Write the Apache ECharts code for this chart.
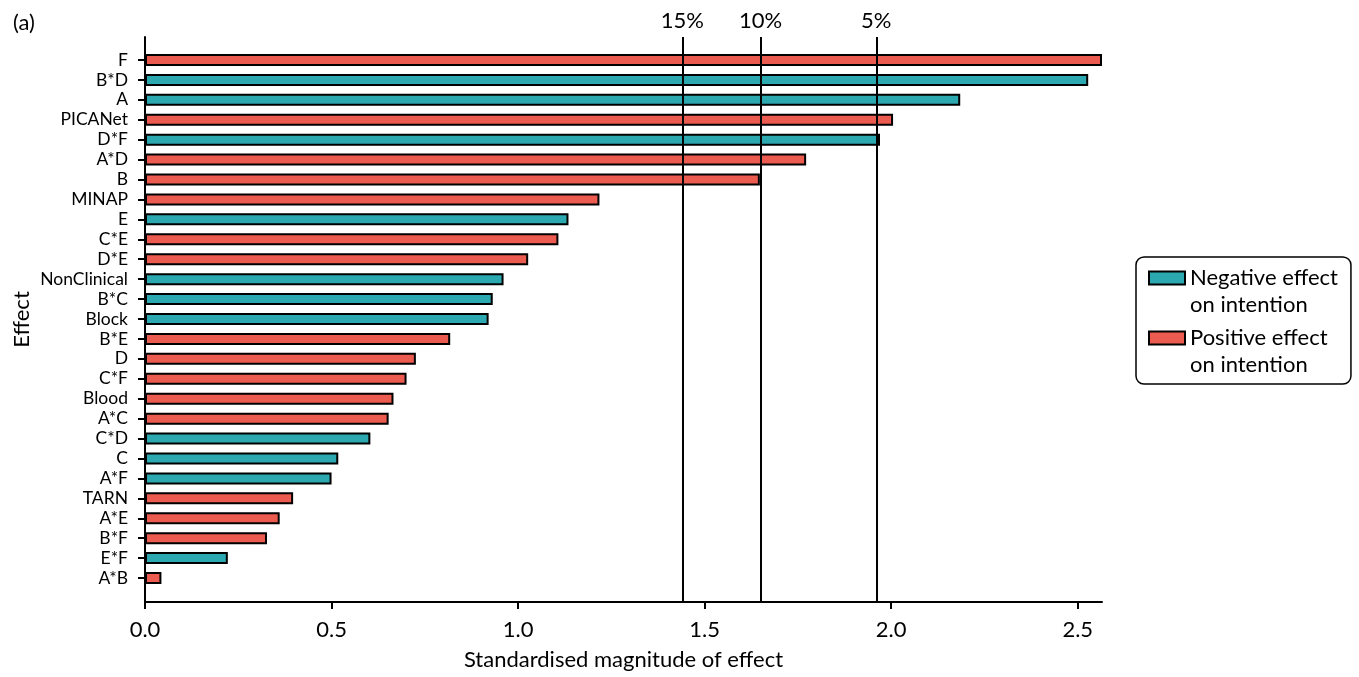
<!DOCTYPE html>
<html><head><meta charset="utf-8">
<script src="https://cdn.jsdelivr.net/npm/echarts@6/dist/echarts.min.js"></script>
<style>html,body{margin:0;padding:0;background:#fff}#chart{width:1359px;height:677px}</style>
</head><body><div id="chart"></div>
<script>
const categories = ['F','B*D','A','PICANet','D*F','A*D','B','MINAP','E','C*E','D*E','NonClinical','B*C','Block','B*E','D','C*F','Blood','A*C','C*D','C','A*F','TARN','A*E','B*F','E*F','A*B'];
const magnitudes = [2.565,2.528,2.185,2.005,1.97,1.772,1.648,1.218,1.135,1.108,1.027,0.961,0.932,0.921,0.818,0.726,0.701,0.666,0.653,0.604,0.518,0.500,0.397,0.361,0.327,0.222,0.044];
const directions = ['pos','neg','neg','pos','neg','pos','pos','pos','neg','pos','pos','neg','neg','neg','pos','pos','pos','pos','pos','neg','neg','neg','pos','pos','pos','neg','pos'];
const seriesNames = ['Negative effect on intention','Positive effect on intention'];
const xTicks = [0,0.5,1,1.5,2,2.5];
const thresholdLabels = ['15%','10%','5%'];
const thresholdValues = [1.440,1.645,1.960];

const FONT = 'Lato';
const TEAL = '#2ca8b0', RED = '#eb5b4f';
const xMax = 2.565;

const negData = magnitudes.map((v,i)=> directions[i]==='neg' ? v : '-');
const posData = magnitudes.map((v,i)=> directions[i]==='pos' ? v : '-');

const chart = echarts.init(document.getElementById('chart'), null, {renderer:'canvas'});
const option = {
  animation: false,
  textStyle: {fontFamily: FONT, color:'#000'},
  title: {text:'(a)', left: 8, top: 7, textStyle:{fontFamily:FONT, fontSize:22, fontWeight:'normal', color:'#000'}},
  legend: {
    orient:'vertical', left:1136, top:257,
    data: seriesNames,
    icon: 'path://M0,0L36,0L36,13L0,13Z M0,39',
    itemWidth: 36, itemHeight: 39, itemGap: 6,
    padding: [7,13,6,12],
    borderColor:'#000', borderWidth:1.5, borderRadius:8,
    formatter: n => n.replace(' on intention','\non intention'),
    textStyle: {fontFamily:FONT, fontSize:22, lineHeight:27, color:'#000'},
    itemStyle: {borderColor:'#000', borderWidth:2}
  },
  grid: [
    {left:145, right:257, top:50, bottom:89, containLabel:false},
    {left:145, right:257, top:37, bottom:75, containLabel:false}
  ],
  xAxis: [
    {gridIndex:0, type:'value', min:0, max:xMax, show:false},
    {gridIndex:1, type:'value', min:0, max:xMax,
     axisLine:{show:true, lineStyle:{color:'#000', width:2}},
     axisTick:{show:true, length:7, lineStyle:{color:'#000', width:2}, customValues:xTicks},
     axisLabel:{customValues:xTicks, formatter:v=>Number(v).toFixed(1), fontSize:22, margin:17, color:'#000', fontFamily:FONT},
     splitLine:{show:false},
     name:'Standardised magnitude of effect', nameLocation:'middle', nameGap:47,
     nameTextStyle:{fontSize:22, color:'#000', fontFamily:FONT}}
  ],
  yAxis: [
    {gridIndex:0, type:'category', data:categories, inverse:true,
     axisLine:{show:false},
     axisTick:{show:true, alignWithLabel:true, interval:0, length:7, lineStyle:{color:'#000', width:2}},
     axisLabel:{interval:0, fontSize:17.5, margin:17, color:'#000', fontFamily:FONT}},
    {gridIndex:1, type:'value', min:0, max:1,
     axisLine:{show:true, lineStyle:{color:'#000', width:2}},
     axisTick:{show:false}, axisLabel:{show:false}, splitLine:{show:false},
     name:'Effect', nameLocation:'middle', nameGap:112, nameRotate:90,
     nameTextStyle:{fontSize:22, color:'#000', fontFamily:FONT}}
  ],
  series: [
    {name:seriesNames[0], type:'bar', xAxisIndex:0, yAxisIndex:0, data:negData, barWidth:12, barGap:'-100%',
     itemStyle:{color:TEAL, borderColor:'#000', borderWidth:2}},
    {name:seriesNames[1], type:'bar', xAxisIndex:0, yAxisIndex:0, data:posData, barWidth:12, barGap:'-100%',
     itemStyle:{color:RED, borderColor:'#000', borderWidth:2}},
    {name:'thresholds', type:'line', xAxisIndex:1, yAxisIndex:1, data:[], z:10,
     markLine:{silent:true, symbol:['none','none'],
       lineStyle:{color:'#000', width:2, type:'solid'},
       label:{show:true, position:'end', formatter:p=>p.name, fontSize:22, color:'#000', fontFamily:FONT, distance:5},
       data: thresholdValues.map((v,i)=>({xAxis:v, name:thresholdLabels[i]}))}}
  ]
};
chart.setOption(option);
</script></body></html>
